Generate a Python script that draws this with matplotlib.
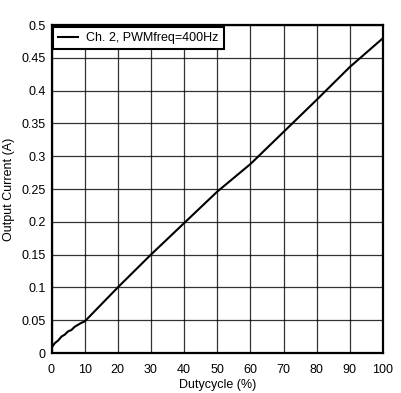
import matplotlib
matplotlib.use("Agg")
import matplotlib.pyplot as plt

duty = [0, 1, 2, 3, 4, 5, 6, 7, 8, 9, 10, 20, 30, 40, 50, 60, 70, 80, 90, 100]
current = [0.008, 0.015, 0.019, 0.025, 0.028, 0.033, 0.035, 0.040, 0.043, 0.046,
           0.048, 0.100, 0.150, 0.198, 0.246, 0.288, 0.337, 0.386, 0.436, 0.480]
xticks = [0, 10, 20, 30, 40, 50, 60, 70, 80, 90, 100]
yticks = [0, 0.05, 0.1, 0.15, 0.2, 0.25, 0.3, 0.35, 0.4, 0.45, 0.5]
ytick_labels = ["0", "0.05", "0.1", "0.15", "0.2", "0.25", "0.3", "0.35", "0.4", "0.45", "0.5"]
series_label = "Ch. 2, PWMfreq=400Hz"

plt.rcParams['font.family'] = ['Liberation Sans', 'DejaVu Sans']
plt.rcParams['font.size'] = 9

fig = plt.figure(figsize=(4.01, 3.93), dpi=100)
ax = fig.add_axes([51.5/401, 1 - 353/393, (383 - 51.5)/401, (353 - 25)/393])

ax.plot(duty, current, color='black', linewidth=1.5, label=series_label, zorder=3)
ax.set_xlim(0, 100)
ax.set_ylim(0, 0.5)
ax.set_xticks(xticks)
ax.set_yticks(yticks)
ax.set_yticklabels(ytick_labels)
ax.grid(True, color='black', linewidth=0.9, alpha=0.8)
ax.tick_params(axis='y', length=0, pad=4, colors='black')
ax.tick_params(axis='x', length=0, pad=8, colors='black')
for s in ax.spines.values():
    s.set_linewidth(1.6)
    s.set_color('black')
ax.set_xlabel("Dutycycle (%)", labelpad=2)
ax.set_ylabel("Output Current (A)", labelpad=4.5)

leg = ax.legend(loc='upper left', frameon=True, fancybox=False, framealpha=1,
                edgecolor='black', borderaxespad=0.15, handlelength=1.6,
                handletextpad=0.65, borderpad=0.4)
leg.get_frame().set_linewidth(1.5)

fig.savefig("out.png", dpi=100)
